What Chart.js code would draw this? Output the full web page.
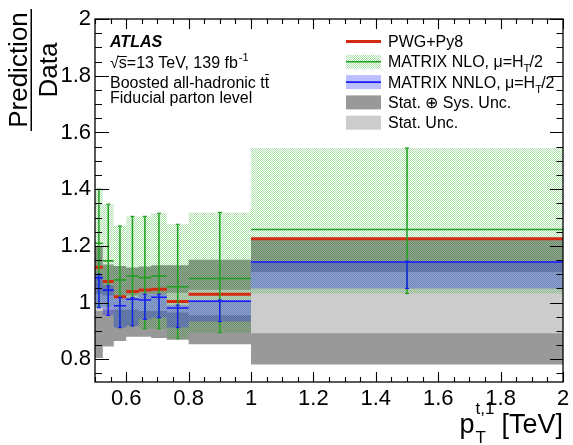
<!DOCTYPE html>
<html><head><meta charset="utf-8">
<script src="https://cdn.jsdelivr.net/npm/chart.js@4.4.1/dist/chart.umd.min.js"></script>
<style>html,body{margin:0;padding:0;background:#fff;overflow:hidden}#wrap{width:573px;height:445px;position:relative}</style>
</head><body><div id="wrap"><canvas id="c" width="573" height="445"></canvas></div>
<script>
// ---- data ----
const binEdges = [0.5, 0.525, 0.56, 0.6, 0.64, 0.68, 0.73, 0.8, 1.0, 2.0];
const pwgPy8   = [1.125, 1.074, 1.021, 1.039, 1.044, 1.047, 1.004, 1.029, 1.225];
const nloCentral = [1.209, 1.147, 1.080, 1.094, 1.088, 1.094, 1.056, 1.085, 1.258];
const nloUp      = [1.400, 1.347, 1.270, 1.304, 1.304, 1.315, 1.276, 1.318, 1.545];
const nloDown    = [0.985, 0.988, 0.912, 0.918, 0.908, 0.908, 0.873, 0.894, 1.032];
const nnloCentral = [1.087, 1.044, 0.989, 1.012, 1.009, 1.019, 0.981, 1.005, 1.143];
const nnloUp      = [1.100, 1.059, 1.018, 1.018, 1.029, 1.029, 0.991, 1.009, 1.146];
const nnloDown    = [0.982, 0.955, 0.912, 0.918, 0.941, 0.947, 0.912, 0.933, 1.050];
const statSysUp   = [1.200, 1.134, 1.129, 1.124, 1.127, 1.132, 1.132, 1.151, 1.221];
const statSysDown = [0.805, 0.845, 0.865, 0.880, 0.880, 0.875, 0.869, 0.853, 0.782];
const statUp      = [1.030, 1.025, 1.025, 1.025, 1.030, 1.030, 1.035, 1.045, 1.108];
const statDown    = [0.970, 0.975, 0.975, 0.975, 0.970, 0.970, 0.965, 0.955, 0.892];
const xTickValues = [0.6, 0.8, 1, 1.2, 1.4, 1.6, 1.8, 2];
const xTickLabels = ['0.6', '0.8', '1', '1.2', '1.4', '1.6', '1.8', '2'];
const yTickValues = [0.8, 1, 1.2, 1.4, 1.6, 1.8, 2];
const yTickLabels = ['0.8', '1', '1.2', '1.4', '1.6', '1.8', '2'];
const legendLabels = ['PWG+Py8', 'MATRIX NLO, \u03bc=H', 'MATRIX NNLO, \u03bc=H', 'Stat. \u2295 Sys. Unc.', 'Stat. Unc.'];

// ---- styles ----
const FONT = '"Liberation Sans", Arial, Helvetica, sans-serif';
const cRed = '#d42a10', cGreen = '#1fa01f', cBlue = '#1a1aff';
const cDark = '#999999', cLight = '#cccccc';
const canvas = document.getElementById('c');
const ctx0 = canvas.getContext('2d');
function hatch(color, pitch, dir) {
  const off = document.createElement('canvas');
  off.width = pitch; off.height = pitch;
  const g = off.getContext('2d');
  g.fillStyle = color;
  for (let i = 0; i < pitch; i++) g.fillRect(dir > 0 ? i : pitch - 1 - i, i, 1, 1);
  return ctx0.createPattern(off, 'repeat');
}
const greenHatch = hatch('rgba(0,160,0,0.33)', 2, 1);
const blueFill = 'rgba(30,40,255,0.3)';

// ---- helpers building point lists from the arrays ----
const centers = binEdges.slice(0, -1).map((e, i) => (e + binEdges[i + 1]) / 2);
const stepPts = v => binEdges.map((e, i) => ({x: e, y: v[Math.max(0, i - 1)]}));
const segPts = v => v.flatMap((y, i) => [{x: binEdges[i], y}, {x: binEdges[i + 1], y}, {x: binEdges[i + 1], y: null}]);
const errPts = (lo, hi) => lo.flatMap((l, i) => [{x: centers[i], y: l}, {x: centers[i], y: hi[i]}, {x: centers[i], y: null}]);

const band = (up, dn, color, order) => [
  {data: stepPts(up), stepped: 'after', borderWidth: 0, pointRadius: 0, fill: false, order},
  {data: stepPts(dn), stepped: 'after', borderWidth: 0, pointRadius: 0, fill: '-1', backgroundColor: color, order}
];
const line = (v, color, w, order) => ({data: segPts(v), borderColor: color, borderWidth: w, pointRadius: 0, spanGaps: false, fill: false, order});
const err = (lo, hi, color, order) => ({data: errPts(lo, hi), borderColor: color, borderWidth: 1.5, pointStyle: 'line', pointRadius: 2, pointBorderWidth: 1.2, pointBorderColor: color, spanGaps: false, fill: false, order});

const datasets = [
  ...band(statSysUp, statSysDown, cDark, 10),
  ...band(statUp, statDown, cLight, 9),
  ...band(nloUp, nloDown, greenHatch, 8),
  ...band(nnloUp, nnloDown, blueFill, 7),
  line(pwgPy8, cRed, 3, 5),
  line(nloCentral, cGreen, 1.6, 4),
  err(nloDown, nloUp, cGreen, 4),
  line(nnloCentral, cBlue, 1.6, 3),
  err(nnloDown, nnloUp, cBlue, 3)
];

// ---- frame, inward ticks, texts ----
const decor = {
  id: 'decor',
  afterDatasetsDraw(chart) {
    const {ctx, chartArea: a, scales: {x, y}} = chart;
    ctx.save();
    ctx.strokeStyle = '#000'; ctx.lineWidth = 1.3;
    ctx.strokeRect(a.left, a.top, a.right - a.left, a.bottom - a.top);
    ctx.lineWidth = 1.1;
    ctx.beginPath();
    for (let k = 0; k <= 30; k++) {
      const v = 0.5 + k * 0.05; const px = Math.round(x.getPixelForValue(v)) + 0.5;
      const major = Math.abs(v * 5 - Math.round(v * 5)) < 1e-6;
      const L = major ? 10 : 5;
      ctx.moveTo(px, a.bottom); ctx.lineTo(px, a.bottom - L);
      ctx.moveTo(px, a.top); ctx.lineTo(px, a.top + L);
    }
    for (let k = 0; k <= 26; k++) {
      const v = 0.75 + k * 0.05; if (v > 2.0001) break;
      const py = Math.round(y.getPixelForValue(v)) + 0.5;
      const major = Math.abs(v * 5 - Math.round(v * 5)) < 1e-6;
      ctx.moveTo(a.left, py); ctx.lineTo(a.left + (major ? 14 : 7), py);
      ctx.moveTo(a.right, py); ctx.lineTo(a.right - (major ? 13 : 6.5), py);
    }
    ctx.stroke();
    ctx.restore();
  },
  afterDraw(chart) {
    const {ctx} = chart;
    ctx.save();
    ctx.fillStyle = '#000';
    ctx.textBaseline = 'alphabetic';
    // ATLAS label block
    ctx.font = 'italic bold 16px ' + FONT;
    ctx.fillText('ATLAS', 110, 47);
    ctx.font = '16px ' + FONT;
    ctx.fillText('\u221As=13 TeV, 139 fb', 110, 68);
    const wR = ctx.measureText('\u221A').width, wS = ctx.measureText('s').width;
    ctx.lineWidth = 1; ctx.strokeStyle = '#000';
    ctx.beginPath(); ctx.moveTo(110 + wR - 1, 56.5); ctx.lineTo(110 + wR + wS, 56.5); ctx.stroke();
    const w1 = ctx.measureText('\u221As=13 TeV, 139 fb').width;
    ctx.font = '11px ' + FONT; ctx.fillText('-1', 110 + w1 + 1, 61);
    ctx.font = '16px ' + FONT;
    ctx.fillText('Boosted all-hadronic tt', 110, 88);
    const wb = ctx.measureText('Boosted all-hadronic tt').width, wt = ctx.measureText('t').width;
    ctx.beginPath(); ctx.moveTo(110 + wb - wt + 0.5, 74.5); ctx.lineTo(110 + wb - 0.5, 74.5); ctx.stroke();
    ctx.fillText('Fiducial parton level', 110, 103);

    // legend
    const lx = 346, lw = 35, tx = 388, b0 = 47, dy = 20.3;
    const rowC = i => b0 + i * dy - 5.5;
    ctx.strokeStyle = cRed; ctx.lineWidth = 3;
    ctx.beginPath(); ctx.moveTo(lx, rowC(0)); ctx.lineTo(lx + lw, rowC(0)); ctx.stroke();
    [[greenHatch, cGreen], [blueFill, cBlue]].forEach(([pat, col], j) => {
      const cy = rowC(j + 1);
      ctx.fillStyle = pat; ctx.fillRect(lx, cy - 7, lw, 14);
      ctx.strokeStyle = col; ctx.lineWidth = 1.6;
      ctx.beginPath(); ctx.moveTo(lx, cy); ctx.lineTo(lx + lw, cy); ctx.stroke();
    });
    ctx.fillStyle = cDark; ctx.fillRect(lx, rowC(3) - 7, lw, 14);
    ctx.fillStyle = cLight; ctx.fillRect(lx, rowC(4) - 7, lw, 14);
    ctx.fillStyle = '#000'; ctx.font = '16px ' + FONT;
    legendLabels.forEach((t, i) => {
      const by = b0 + i * dy;
      ctx.fillText(t, tx, by);
      if (i === 1 || i === 2) {
        const w = ctx.measureText(t).width;
        ctx.font = '11px ' + FONT; ctx.fillText('T', tx + w, by + 5);
        ctx.font = '16px ' + FONT; ctx.fillText('/2', tx + w + 6, by);
      }
    });

    // y title as fraction
    ctx.save();
    ctx.translate(0, 70); ctx.rotate(-Math.PI / 2);
    ctx.textAlign = 'center'; ctx.font = '26px ' + FONT;
    ctx.fillText('Prediction', 0, 27);
    ctx.fillText('Data', 0, 57);
    ctx.fillRect(-61, 30.5, 122, 1.5);
    ctx.restore();

    // x title
    ctx.font = '27px ' + FONT; ctx.textAlign = 'right';
    ctx.fillText('[TeV]', 563, 433);
    const wT = ctx.measureText('[TeV]').width + 7;
    ctx.textAlign = 'left';
    ctx.font = '17px ' + FONT;
    const wSup = ctx.measureText('t,1').width;
    const sx = 563 - wT - wSup;
    ctx.fillText('t,1', sx, 414);
    ctx.fillText('T', sx, 443);
    ctx.font = '27px ' + FONT;
    const wp = ctx.measureText('p').width;
    ctx.fillText('p', sx - wp - 1, 433);
    ctx.restore();
  }
};

new Chart(canvas, {
  type: 'line',
  data: {datasets},
  options: {
    responsive: false, animation: false, events: [],
    layout: {padding: {top: 19, right: 10, left: 0, bottom: 0}},
    plugins: {legend: {display: false}, tooltip: {enabled: false}, filler: {propagate: false}},
    scales: {
      x: {
        type: 'linear', min: 0.5, max: 2.0,
        grid: {display: false}, border: {display: false},
        afterBuildTicks: s => { s.ticks = xTickValues.map(v => ({value: v})); },
        afterFit: s => { s.height = 63; },
        ticks: {autoSkip: false, maxRotation: 0, padding: -4, color: '#000', font: {family: FONT, size: 22},
          callback: (v) => { const i = xTickValues.findIndex(t => Math.abs(t - v) < 1e-9); return i >= 0 ? xTickLabels[i] : ''; }}
      },
      y: {
        type: 'linear', min: 0.72, max: 2.0,
        grid: {display: false}, border: {display: false},
        afterBuildTicks: s => { s.ticks = yTickValues.map(v => ({value: v})); },
        afterFit: s => { s.width = 95; },
        ticks: {autoSkip: false, padding: -4, color: '#000', font: {family: FONT, size: 22},
          callback: (v) => { const i = yTickValues.findIndex(t => Math.abs(t - v) < 1e-9); return i >= 0 ? yTickLabels[i] : ''; }}
      }
    }
  },
  plugins: [decor]
});
</script>
</body></html>
